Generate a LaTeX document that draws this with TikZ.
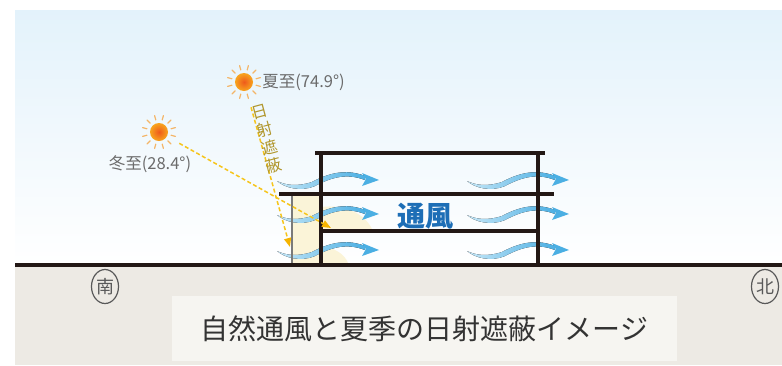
\documentclass[tikz,border=0pt]{standalone}
\usepackage{fontspec}
\setmainfont{Noto Sans CJK JP}
\usetikzlibrary{positioning,arrows.meta,shapes.geometric}

\definecolor{skyblue}{HTML}{E3F2FB}
\definecolor{groundfill}{HTML}{EDEAE4}
\definecolor{captionfill}{HTML}{F6F5F1}
\definecolor{slabcol}{HTML}{231815}
\definecolor{postgray}{HTML}{7A7A7A}
\definecolor{windblue}{HTML}{4BAFE3}
\definecolor{windpale}{HTML}{C4E6F7}
\definecolor{raygold}{HTML}{F6C51B}
\definecolor{tipgold}{HTML}{F5B400}
\definecolor{shadeyellow}{HTML}{FBF2CF}
\definecolor{labelgray}{HTML}{6B6B6B}
\definecolor{textgold}{HTML}{B0962C}
\definecolor{ventblue}{HTML}{1D6EB6}
\definecolor{sunred}{HTML}{EE5A1C}
\definecolor{sunorange}{HTML}{F8A51E}
\definecolor{sunray}{HTML}{F4B567}

\begin{document}
\begin{tikzpicture}[x=1pt, y=-1pt,
  % styles of the section
  slab/.style={draw=slabcol, line width=4pt},
  post/.style={draw=postgray, line width=1.5pt},
  patch/.style={fill=shadeyellow, opacity=0.8},
  sun/.style={circle, minimum size=18pt, inner sep=0pt, shading=radial,
    inner color=sunred, outer color=sunorange},
  sunbeam/.style={draw=sunray, line width=1.2pt, line cap=round},
  ray/.style={draw=raygold, line width=1.5pt, dash pattern=on 4pt off 2.5pt,
    -{Triangle[length=9pt, width=7pt, color=tipgold]}},
  lbl/.style={text=labelgray, inner sep=0pt, font=\fontsize{16.5}{16.5}\selectfont},
  shadetext/.style={text=textgold, align=center, inner sep=0pt,
    font=\fontsize{16}{18.5}\selectfont},
  ventlbl/.style={text=ventblue, inner sep=0pt, font=\bfseries\fontsize{28}{28}\selectfont},
  compass/.style={ellipse, draw=black!65, line width=1.2pt, minimum width=27pt,
    minimum height=34pt, inner sep=0pt, text=black!65, font=\fontsize{18}{18}\selectfont},
  caption/.style={fill=captionfill, minimum width=505pt, minimum height=65pt,
    text=black!80, font=\fontsize{28}{28}\selectfont},
  % one wavy breeze arrow, about 100pt long
  wind/.pic={
    \fill[left color=windpale, right color=windblue]
      (0,0) .. controls (8,4) and (20,6) .. (35,1)
            .. controls (50,-7) and (68,-13) .. (88,-5)
      -- (88,-1) .. controls (70,-8) and (55,-4) .. (38,5)
            .. controls (24,11) and (8,7) .. (0,0) -- cycle;
    \fill[windblue] (85,-8) -- (102,-1) -- (85,5) -- (89,-2) -- cycle;
  }]
  \useasboundingbox (0,0) rectangle (782,365);

  % sky and ground
  \fill[top color=skyblue, bottom color=white] (15,10) rectangle (782,265);
  \fill[groundfill] (15,267) rectangle (782,365);
  \node[caption] (caption) at (424.5,328.5) {自然通風と夏季の日射遮蔽イメージ};

  % sunlit patches
  \fill[patch] (292,196) rectangle (321,264);
  \fill[patch] (321,229) -- (321,207) .. controls (345,204) and (365,214) .. (372,229) -- cycle;
  \fill[patch] (321,263) -- (321,247) .. controls (335,247) and (345,255) .. (348,263) -- cycle;

  % breeze through the three floors
  \foreach \y in {181,215,251}
    \foreach \x in {277,467}
      \pic at (\x,\y) {wind};

  % the building
  \draw[slab] (315,153) -- (545,153); % roof
  \draw[slab] (279,194) -- (554,194); % floor with eaves
  \draw[slab] (321,231) -- (539,231);
  \draw[slab] (321,153) -- (321,265);
  \draw[slab] (538,153) -- (538,265);
  \draw[post] (292,196) -- (292,265);
  \draw[slab, line width=4.5pt] (15,265) -- (782,265); % ground line

  \node[ventlbl] (vent) at (425,216) {通風};

  % the two suns
  \node[sun] (summer) at (244,82) {};
  \node[sun] (winter) at (159,132) {};
  \foreach \a in {15,45,...,345} {
    \draw[sunbeam] (summer.center) ++(\a:12.5) -- ++(\a:4.5);
    \draw[sunbeam] (winter.center) ++(\a:12.5) -- ++(\a:4.5);
  }
  \node[lbl, right=9pt of summer] (summerlbl) {夏至(74.9°)};
  \node[lbl, below=14pt of winter, xshift=-9pt] (winterlbl) {冬至(28.4°)};

  % sun rays
  \coordinate (sumend) at (290,247);
  \coordinate (winend) at (331,228);
  \draw[ray, shorten <=17pt] (summer) -- (sumend);
  \draw[ray, shorten <=14pt] (winter) -- (winend);
  \node[shadetext, rotate=15] (shadelbl) at (267,139) {日\\射\\遮\\蔽};

  % compass marks
  \node[compass] (south) at (105,286.5) {南};
  \node[compass] (north) at (765,286.5) {北};
\end{tikzpicture}
\end{document}
